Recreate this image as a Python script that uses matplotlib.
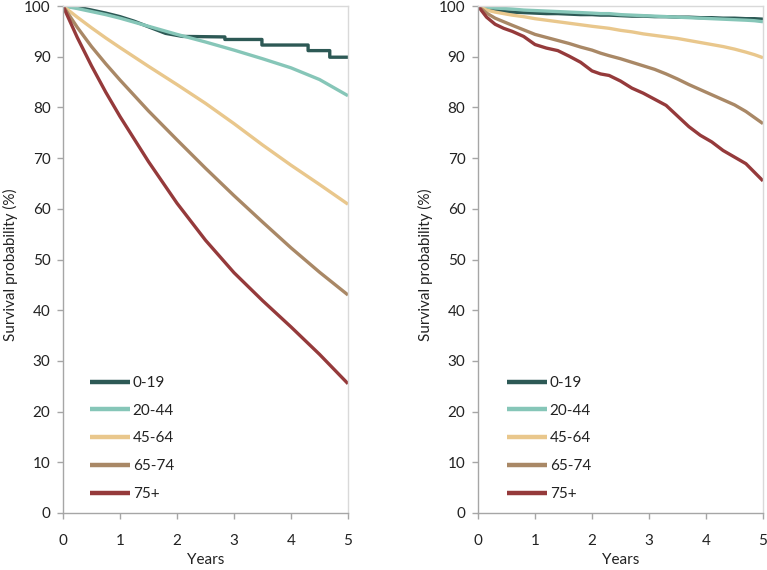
import matplotlib
matplotlib.use("Agg")
import matplotlib.pyplot as plt

plt.rcParams['font.family'] = ['Lato', 'DejaVu Sans']

# age groups and colours
groups = ['0-19', '20-44', '45-64', '65-74', '75+']
colors = ['#2d5955', '#86c6b8', '#e9c78c', '#a98866', '#953a3b']

# ---- left panel ----
t_0_19_left = [0, 0.25, 0.5, 0.75, 1.0, 1.25, 1.5, 1.8, 2.1, 2.84, 2.84, 3.49, 3.49,
               4.3, 4.3, 4.68, 4.68, 5.0]
s_0_19_left = [100, 99.8, 99.2, 98.6, 97.9, 97.0, 95.9, 94.6, 94.0, 93.9, 93.4, 93.4,
               92.3, 92.3, 91.2, 91.2, 89.9, 89.9]

t_left = [0, 0.25, 0.5, 0.75, 1.0, 1.5, 2.0, 2.5, 3.0, 3.5, 4.0, 4.5, 5.0]
s_20_44_left = [100, 99.5, 98.9, 98.3, 97.6, 96.0, 94.4, 92.9, 91.3, 89.6, 87.8, 85.5, 82.3]
s_45_64_left = [100, 97.8, 95.7, 93.7, 91.8, 88.1, 84.5, 80.8, 76.8, 72.6, 68.6, 64.8, 60.9]
s_65_74_left = [100, 95.8, 92.0, 88.6, 85.4, 79.3, 73.6, 68.0, 62.6, 57.4, 52.3, 47.5, 43.0]
s_75_left = [100, 93.8, 88.2, 83.0, 78.2, 69.3, 61.1, 53.8, 47.4, 41.9, 36.7, 31.3, 25.5]

# ---- right panel ----
t_right = [0, 0.15, 0.3, 0.45, 0.6, 0.8, 1.0, 1.2, 1.4, 1.6, 1.8, 2.0, 2.15, 2.3,
           2.5, 2.7, 2.9, 3.1, 3.3, 3.5, 3.7, 3.9, 4.1, 4.3, 4.5, 4.7, 4.85, 5.0]
s_0_19_right = [100, 99.6, 99.2, 98.9, 98.8, 98.7, 98.6, 98.5, 98.5, 98.4, 98.3, 98.3,
                98.2, 98.2, 98.1, 98.0, 98.0, 97.9, 97.9, 97.8, 97.8, 97.7, 97.7,
                97.6, 97.6, 97.5, 97.5, 97.4]
s_20_44_right = [100, 99.8, 99.6, 99.5, 99.4, 99.2, 99.1, 99.0, 98.9, 98.8, 98.7, 98.6,
                 98.5, 98.5, 98.3, 98.2, 98.1, 98.0, 97.9, 97.8, 97.7, 97.6, 97.5,
                 97.4, 97.3, 97.2, 97.1, 96.9]
s_45_64_right = [100, 99.2, 98.8, 98.5, 98.2, 97.9, 97.5, 97.2, 96.9, 96.6, 96.3, 96.0,
                 95.8, 95.6, 95.2, 94.9, 94.5, 94.2, 93.9, 93.6, 93.2, 92.8, 92.4,
                 92.0, 91.5, 90.9, 90.4, 89.8]
s_65_74_right = [100, 98.6, 97.6, 96.9, 96.2, 95.3, 94.4, 93.8, 93.2, 92.6, 91.9, 91.3,
                 90.7, 90.2, 89.6, 88.9, 88.2, 87.5, 86.6, 85.6, 84.5, 83.5, 82.5,
                 81.5, 80.5, 79.2, 78.0, 76.8]
s_75_right = [100, 97.8, 96.4, 95.6, 95.0, 94.0, 92.4, 91.7, 91.2, 90.1, 88.9, 87.2,
              86.6, 86.3, 85.2, 83.8, 82.8, 81.6, 80.4, 78.3, 76.2, 74.5, 73.2,
              71.5, 70.2, 68.9, 67.2, 65.5]

left_data = [(t_0_19_left, s_0_19_left), (t_left, s_20_44_left), (t_left, s_45_64_left),
             (t_left, s_65_74_left), (t_left, s_75_left)]
right_data = [(t_right, s_0_19_right), (t_right, s_20_44_right), (t_right, s_45_64_right),
              (t_right, s_65_74_right), (t_right, s_75_right)]

W, H = 767, 570
fig = plt.figure(figsize=(W / 100, H / 100), dpi=100)

ax_left = fig.add_axes([63 / W, 1 - 513 / H, 285 / W, 507 / H])
ax_right = fig.add_axes([478 / W, 1 - 513 / H, 285 / W, 507 / H])

for ax, data, leg_x, ylab_x in [(ax_left, left_data, 90, -0.158),
                                 (ax_right, right_data, 507, -0.158)]:
    for (t, s), name, c in zip(data, groups, colors):
        ax.plot(t, s, color=c, lw=2.4, label=name, solid_capstyle='butt')

    ax.set_xlim(0, 5)
    ax.set_ylim(0, 100)
    ax.set_xticks(range(0, 6))
    ax.set_yticks(range(0, 101, 10))

    # spines: gray axes, light box
    for side in ['top', 'right']:
        ax.spines[side].set_color('#d9d9d9')
        ax.spines[side].set_linewidth(1.0)
    for side in ['left', 'bottom']:
        ax.spines[side].set_color('#a6a6a6')
        ax.spines[side].set_linewidth(1.0)

    ax.tick_params(axis='both', direction='out', length=4, width=1,
                   color='#a6a6a6', labelsize=11, labelcolor='#222222')
    ax.tick_params(axis='x', pad=11)
    ax.tick_params(axis='y', pad=5)

    ax.set_ylabel('Survival probability (%)', fontsize=11, color='#222222')
    ax.yaxis.set_label_coords(ylab_x, 0.49)
    ax.set_xlabel('Years', fontsize=11, color='#222222')
    ax.xaxis.set_label_coords(0.5, -0.078)

    leg = ax.legend(loc='upper left', bbox_to_anchor=(leg_x / W, 1 - 376 / H),
                    bbox_transform=fig.transFigure, frameon=False, fontsize=11,
                    handlelength=2.6, handletextpad=0.2, labelspacing=0.9,
                    borderpad=0, borderaxespad=0)
    for line in leg.get_lines():
        line.set_linewidth(3.2)
    for txt in leg.get_texts():
        txt.set_color('#222222')

fig.savefig('out.png', dpi=100)
